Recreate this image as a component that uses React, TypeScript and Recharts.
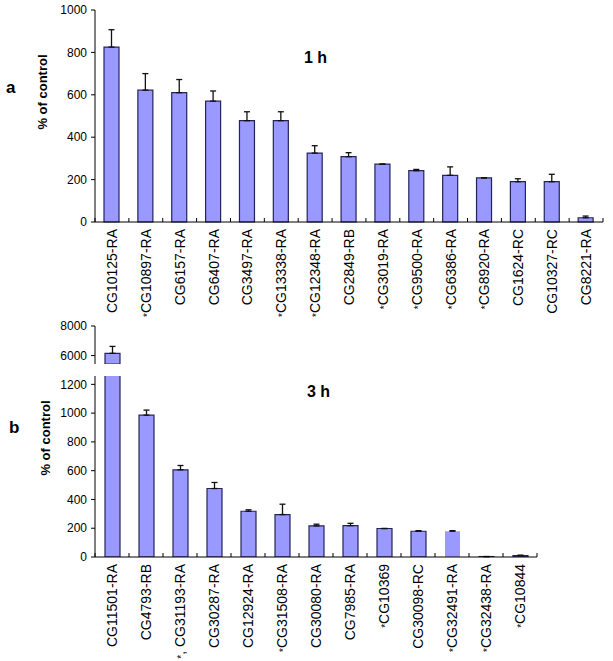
import React from 'react';
import { BarChart, Bar, XAxis, YAxis, ErrorBar, Cell } from 'recharts';

// panel a — 1 h
const genesA = [
  'CG10125-RA', '*CG10897-RA', 'CG6157-RA', 'CG6407-RA', 'CG3497-RA',
  '*CG13338-RA', '*CG12348-RA', 'CG2849-RB', '*CG3019-RA', '*CG9500-RA',
  '*CG6386-RA', '*CG8920-RA', 'CG1624-RC', 'CG10327-RC', 'CG8221-RA',
];
const valuesA = [825, 622, 610, 570, 478, 478, 325, 308, 273, 242, 220, 208, 190, 190, 20];
const errorsA = [82, 78, 62, 48, 42, 42, 35, 19, 0, 6, 40, 0, 14, 35, 8];
const ticksA = [0, 200, 400, 600, 800, 1000];

// panel b — 3 h (broken axis)
const genesB = [
  'CG11501-RA', 'CG4793-RB', '*, CG31193-RA', 'CG30287-RA', 'CG12924-RA',
  '*CG31508-RA', 'CG30080-RA', 'CG7985-RA', '*CG10369', 'CG30098-RC',
  '*CG32491-RA', '*CG32438-RA', '*CG10844',
];
const valuesB = [6150, 986, 606, 476, 318, 295, 216, 218, 198, 179, 179, 3, 9];
const errorsB = [470, 35, 30, 42, 10, 72, 12, 16, 0, 4, 4, 0, 4];
const ticksBLow = [0, 200, 400, 600, 800, 1000, 1200];
const ticksBHigh = [6000, 8000];
const lowDomain = [0, 1258];
const highDomain = [5430, 8000];
const breakAt = 1200;

const dataA = genesA.map((gene, i) => ({ gene, value: valuesA[i], err: [0, errorsA[i]] }));
const dataBLow = genesB.map((gene, i) => ({
  gene,
  value: valuesB[i],
  err: valuesB[i] > breakAt ? null : [0, errorsB[i]],
}));
const dataBHigh = genesB.map((gene, i) => ({
  gene,
  value: valuesB[i] > breakAt ? valuesB[i] : null,
  err: valuesB[i] > breakAt ? [0, errorsB[i]] : null,
}));

const FONT = '"Liberation Sans", Arial, sans-serif';
const FILL = '#9999ff';
const EDGE = '#24245c';

const GeneTick = (props: any) => {
  const { x, y, payload, index, visibleTicksCount } = props;
  const half = payload.offset ?? 17;
  const name: string = payload.value;
  const star = name.startsWith('*');
  const rest = star ? name.slice(1) : name;
  const px = x + 5;
  const py = y + 7;
  return (
    <g>
      <line x1={x - half} x2={x - half} y1={y} y2={y - 4} stroke="#000" />
      {index === visibleTicksCount - 1 && (
        <line x1={x + half} x2={x + half} y1={y} y2={y - 4} stroke="#000" />
      )}
      <text
        x={px}
        y={py}
        transform={`rotate(-90, ${px}, ${py})`}
        textAnchor="end"
        fontSize={14}
        fontFamily={FONT}
        fill="#000"
      >
        {star && <tspan fontSize={10}>*</tspan>}
        <tspan>{rest}</tspan>
      </text>
    </g>
  );
};

const yTick = { fontSize: 12, fill: '#000', fontFamily: FONT };
const axisStroke = { stroke: '#000' };

const App = () => {
  return (
    <div style={{ position: 'absolute', left: 0, top: 0, width: 613, height: 661, background: '#fff' }}>
      {/* panel a */}
      <div style={{ position: 'absolute', left: 0, top: 0 }}>
        <BarChart width={613} height={320} data={dataA} margin={{ top: 10, right: 10, left: 55, bottom: 0 }}>
          <XAxis
            dataKey="gene"
            interval={0}
            height={98}
            tickLine={false}
            tickSize={0}
            tickMargin={0}
            axisLine={axisStroke}
            tick={<GeneTick />}
          />
          <YAxis
            width={40}
            domain={[0, 1000]}
            ticks={ticksA}
            interval={0}
            tick={yTick}
            tickSize={4}
            tickMargin={4}
            tickLine={axisStroke}
            axisLine={axisStroke}
          />
          <Bar dataKey="value" barSize={15} fill={FILL} stroke={EDGE} strokeWidth={1.2} isAnimationActive={false}>
            <ErrorBar dataKey="err" width={3} stroke="#111" strokeWidth={1.3} direction="y" />
          </Bar>
        </BarChart>
      </div>

      {/* panel b, upper segment */}
      <div style={{ position: 'absolute', left: 0, top: 316 }}>
        <BarChart width={613} height={48} data={dataBHigh} margin={{ top: 10, right: 76, left: 55, bottom: 0 }}>
          <XAxis dataKey="gene" hide />
          <YAxis
            width={40}
            domain={highDomain}
            allowDataOverflow
            ticks={ticksBHigh}
            interval={0}
            tick={yTick}
            tickSize={4}
            tickMargin={4}
            tickLine={axisStroke}
            axisLine={axisStroke}
          />
          <Bar dataKey="value" barSize={15} fill={FILL} stroke={EDGE} strokeWidth={1.2} isAnimationActive={false}>
            <ErrorBar dataKey="err" width={3} stroke="#111" strokeWidth={1.3} direction="y" />
          </Bar>
        </BarChart>
      </div>

      {/* panel b, lower segment */}
      <div style={{ position: 'absolute', left: 0, top: 366 }}>
        <BarChart width={613} height={295} data={dataBLow} margin={{ top: 10, right: 76, left: 55, bottom: 0 }}>
          <XAxis
            dataKey="gene"
            interval={0}
            height={104}
            tickLine={false}
            tickSize={0}
            tickMargin={0}
            axisLine={axisStroke}
            tick={<GeneTick />}
          />
          <YAxis
            width={40}
            domain={lowDomain}
            allowDataOverflow
            ticks={ticksBLow}
            interval={0}
            tick={yTick}
            tickSize={4}
            tickMargin={4}
            tickLine={axisStroke}
            axisLine={axisStroke}
          />
          <Bar dataKey="value" barSize={15} fill={FILL} stroke={EDGE} strokeWidth={1.2} isAnimationActive={false}>
            {dataBLow.map((d) => (
              <Cell key={d.gene} stroke={d.gene === '*CG32491-RA' ? 'none' : EDGE} />
            ))}
            <ErrorBar dataKey="err" width={3} stroke="#111" strokeWidth={1.3} direction="y" />
          </Bar>
        </BarChart>
      </div>

      {/* panel letters, titles and axis titles */}
      <svg
        width={613}
        height={661}
        style={{ position: 'absolute', left: 0, top: 0, pointerEvents: 'none' }}
        fontFamily={FONT}
      >
        <text x={6} y={93} fontSize={17} fontWeight="bold">a</text>
        <text x={304} y={63} fontSize={16} fontWeight="bold">1 h</text>
        <text x={47} y={92} fontSize={13} fontWeight="bold" textAnchor="middle" transform="rotate(-90, 47, 92)">
          % of control
        </text>
        <text x={9} y={433} fontSize={17} fontWeight="bold">b</text>
        <text x={307} y={397} fontSize={16} fontWeight="bold">3 h</text>
        <text x={50} y={438} fontSize={13} fontWeight="bold" textAnchor="middle" transform="rotate(-90, 50, 438)">
          % of control
        </text>
      </svg>
    </div>
  );
};

export default App;
